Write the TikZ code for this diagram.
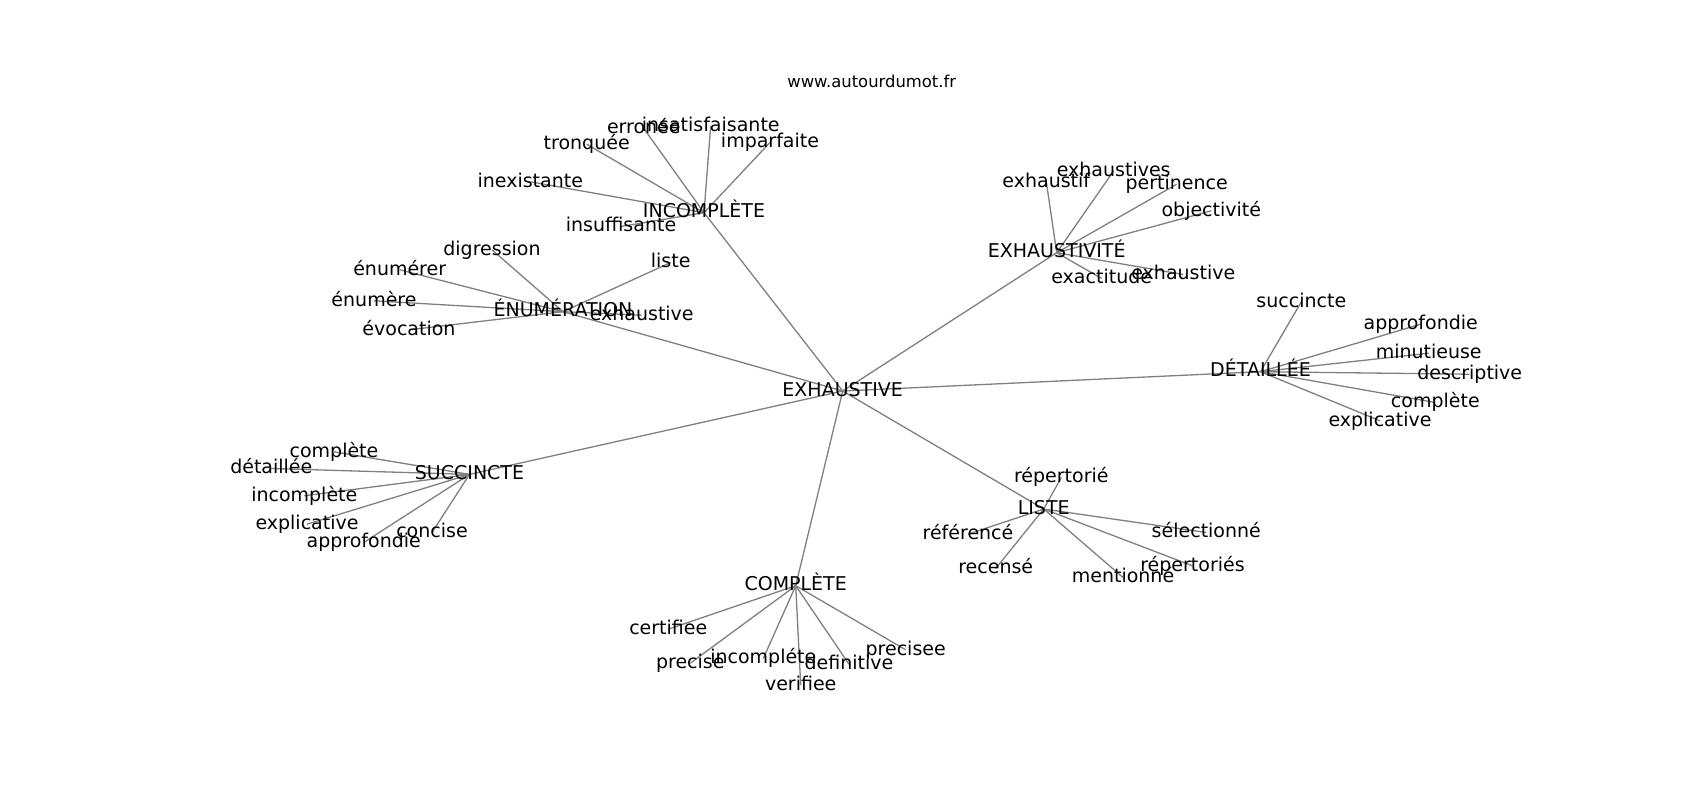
\documentclass[tikz,border=0pt]{standalone}
\usepackage{fontspec}
\setmainfont{DejaVu Sans}
\begin{document}
\begin{tikzpicture}[x=1pt,y=-1pt,
  edge/.style={draw=gray, line width=1.3pt},
  lbl/.style={inner sep=0pt, anchor=base, yshift=-5.2pt, font=\fontsize{19}{22}\selectfont, text=black},
  ttl/.style={inner sep=0pt, anchor=base, font=\fontsize{16.4}{19}\selectfont, text=black}]
\useasboundingbox[fill=white] (0,0) rectangle (1700,800);
% centre
\coordinate (c) at (842.7,391);
% hubs
\coordinate (inc) at (704,212.7);
\coordinate (enu) at (563,311.7);
\coordinate (exh) at (1056.7,252.7);
\coordinate (det) at (1260.5,371.7);
\coordinate (suc) at (469.5,474.4);
\coordinate (com) at (795.7,585.7);
\coordinate (lis) at (1043.7,509);
% INCOMPLETE leaves
\coordinate (i1) at (710.7,125.8);
\coordinate (i2) at (643.8,128.5);
\coordinate (i3) at (586.7,144.2);
\coordinate (i4) at (770,142.5);
\coordinate (i5) at (530.3,181.8);
\coordinate (i6) at (621,226.5);
% ENUMERATION leaves
\coordinate (e1) at (492,249.8);
\coordinate (e2) at (399.7,269.8);
\coordinate (e3) at (374,300.8);
\coordinate (e4) at (409,329.8);
\coordinate (e5) at (670.7,262.5);
\coordinate (e6) at (641.7,315.2);
% EXHAUSTIVITE leaves
\coordinate (x1) at (1046.3,181.8);
\coordinate (x2) at (1113.7,170.8);
\coordinate (x3) at (1176.7,184.2);
\coordinate (x4) at (1211.3,210.8);
\coordinate (x5) at (1101.7,278.5);
\coordinate (x6) at (1183.3,274.5);
% DETAILLEE leaves
\coordinate (d1) at (1301.3,301.8);
\coordinate (d2) at (1420.7,324.2);
\coordinate (d3) at (1428.7,353.2);
\coordinate (d4) at (1469.7,374.2);
\coordinate (d5) at (1435.3,402.5);
\coordinate (d6) at (1380,420.8);
% SUCCINCTE leaves
\coordinate (s1) at (334,451.8);
\coordinate (s2) at (271.3,468.5);
\coordinate (s3) at (304.3,495.8);
\coordinate (s4) at (307,524.2);
\coordinate (s5) at (363.7,542.5);
\coordinate (s6) at (432,532.5);
% COMPLETE leaves
\coordinate (k1) at (668.3,629.2);
\coordinate (k2) at (690.3,663.2);
\coordinate (k3) at (763.3,658.5);
\coordinate (k4) at (800.7,685.2);
\coordinate (k5) at (849,664.2);
\coordinate (k6) at (905.7,649.8);
% LISTE leaves
\coordinate (l1) at (1061.3,477.5);
\coordinate (l2) at (968,534.2);
\coordinate (l3) at (1206.3,532.5);
\coordinate (l4) at (995.7,568.5);
\coordinate (l5) at (1123,577.5);
\coordinate (l6) at (1192.5,565.8);
% edges
\foreach \h in {inc,enu,exh,det,suc,com,lis} \draw[edge] (c) -- (\h);
\foreach \n in {1,...,6} {
  \draw[edge] (inc) -- (i\n);
  \draw[edge] (enu) -- (e\n);
  \draw[edge] (exh) -- (x\n);
  \draw[edge] (det) -- (d\n);
  \draw[edge] (suc) -- (s\n);
  \draw[edge] (com) -- (k\n);
  \draw[edge] (lis) -- (l\n);
}
% title
\node[ttl] (title) at (871.7,87.5) {www.autourdumot.fr};
% labels
\node[lbl] (tc) at (c) {EXHAUSTIVE};
\node[lbl] (tinc) at (inc) {INCOMPLÈTE};
\node[lbl] (tenu) at (enu) {ÉNUMÉRATION};
\node[lbl] (texh) at (exh) {EXHAUSTIVITÉ};
\node[lbl] (tdet) at (det) {DÉTAILLÉE};
\node[lbl] (tsuc) at (suc) {SUCCINCTE};
\node[lbl] (tcom) at (com) {COMPLÈTE};
\node[lbl] (tlis) at (lis) {LISTE};
\node[lbl] (ti1) at (i1) {insatisfaisante};
\node[lbl] (ti2) at (i2) {erronée};
\node[lbl] (ti3) at (i3) {tronquée};
\node[lbl] (ti4) at (i4) {imparfaite};
\node[lbl] (ti5) at (i5) {inexistante};
\node[lbl] (ti6) at (i6) {insuffisante};
\node[lbl] (te1) at (e1) {digression};
\node[lbl] (te2) at (e2) {énumérer};
\node[lbl] (te3) at (e3) {énumère};
\node[lbl] (te4) at (e4) {évocation};
\node[lbl] (te5) at (e5) {liste};
\node[lbl] (te6) at (e6) {exhaustive};
\node[lbl] (tx1) at (x1) {exhaustif};
\node[lbl] (tx2) at (x2) {exhaustives};
\node[lbl] (tx3) at (x3) {pertinence};
\node[lbl] (tx4) at (x4) {objectivité};
\node[lbl] (tx5) at (x5) {exactitude};
\node[lbl] (tx6) at (x6) {exhaustive};
\node[lbl] (td1) at (d1) {succincte};
\node[lbl] (td2) at (d2) {approfondie};
\node[lbl] (td3) at (d3) {minutieuse};
\node[lbl] (td4) at (d4) {descriptive};
\node[lbl] (td5) at (d5) {complète};
\node[lbl] (td6) at (d6) {explicative};
\node[lbl] (ts1) at (s1) {complète};
\node[lbl] (ts2) at (s2) {détaillée};
\node[lbl] (ts3) at (s3) {incomplète};
\node[lbl] (ts4) at (s4) {explicative};
\node[lbl] (ts5) at (s5) {approfondie};
\node[lbl] (ts6) at (s6) {concise};
\node[lbl] (tk1) at (k1) {certifiee};
\node[lbl] (tk2) at (k2) {precise};
\node[lbl] (tk3) at (k3) {incompléte};
\node[lbl] (tk4) at (k4) {verifiee};
\node[lbl] (tk5) at (k5) {definitive};
\node[lbl] (tk6) at (k6) {precisee};
\node[lbl] (tl1) at (l1) {répertorié};
\node[lbl] (tl2) at (l2) {référencé};
\node[lbl] (tl3) at (l3) {sélectionné};
\node[lbl] (tl4) at (l4) {recensé};
\node[lbl] (tl5) at (l5) {mentionné};
\node[lbl] (tl6) at (l6) {répertoriés};
\end{tikzpicture}
\end{document}
